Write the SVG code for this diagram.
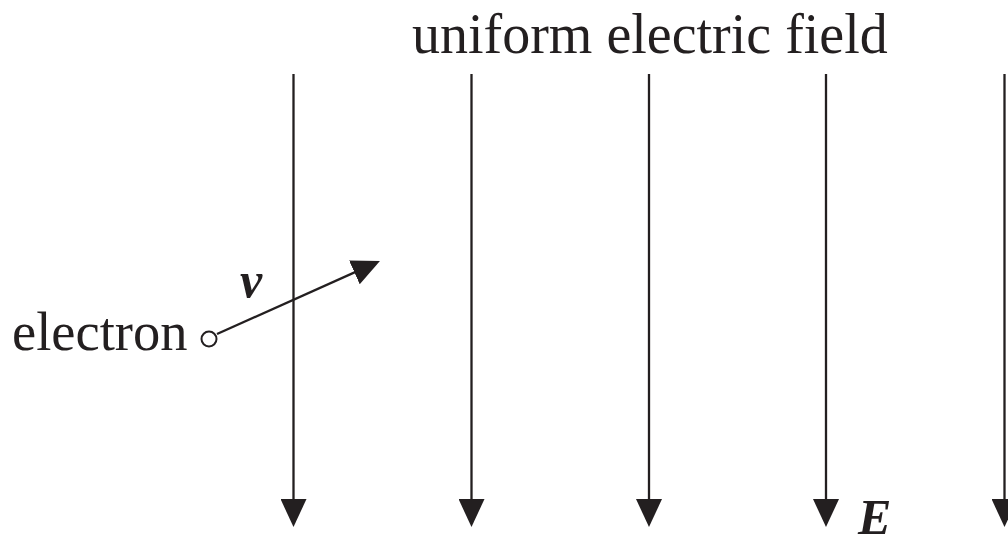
<svg xmlns="http://www.w3.org/2000/svg" width="1008" height="537" viewBox="0 0 1008 537">
<style>
.ln{stroke:#231f20;stroke-width:2.3;fill:none;marker-end:url(#ah)}
.t{font-family:"Liberation Serif","Times New Roman",serif;fill:#231f20}
.bi{font-weight:bold;font-style:italic}
</style>
<defs>
<marker id="ah" markerUnits="userSpaceOnUse" markerWidth="28" markerHeight="26" refX="24" refY="13" orient="auto" viewBox="0 0 28 26">
<path d="M0,0 L28,13 L0,26 z" fill="#231f20"/>
</marker>
</defs>
<rect width="1008" height="537" fill="#fff"/>
<g id="connectors">
<line class="ln" x1="293.5" y1="74" x2="293.5" y2="523"/>
<line class="ln" x1="471.5" y1="74" x2="471.5" y2="523"/>
<line class="ln" x1="649" y1="74" x2="649" y2="523"/>
<line class="ln" x1="826" y1="74" x2="826" y2="523"/>
<line class="ln" x1="1004.5" y1="74" x2="1004.5" y2="523"/>
<line class="ln" x1="217" y1="334" x2="376.3" y2="262.6"/>
</g>
<g id="title"><text class="t" x="412" y="53" font-size="56">uniform electric field</text></g>
<g id="electron">
<text class="t" x="12" y="350" font-size="54.5">electron</text>
<circle cx="209" cy="339" r="7.5" fill="#fff" stroke="#231f20" stroke-width="2"/>
</g>
<g id="v-label"><text class="t bi" x="240" y="297" font-size="50">v</text></g>
<g id="E-label"><text class="t bi" x="858" y="534" font-size="50">E</text></g>
</svg>
